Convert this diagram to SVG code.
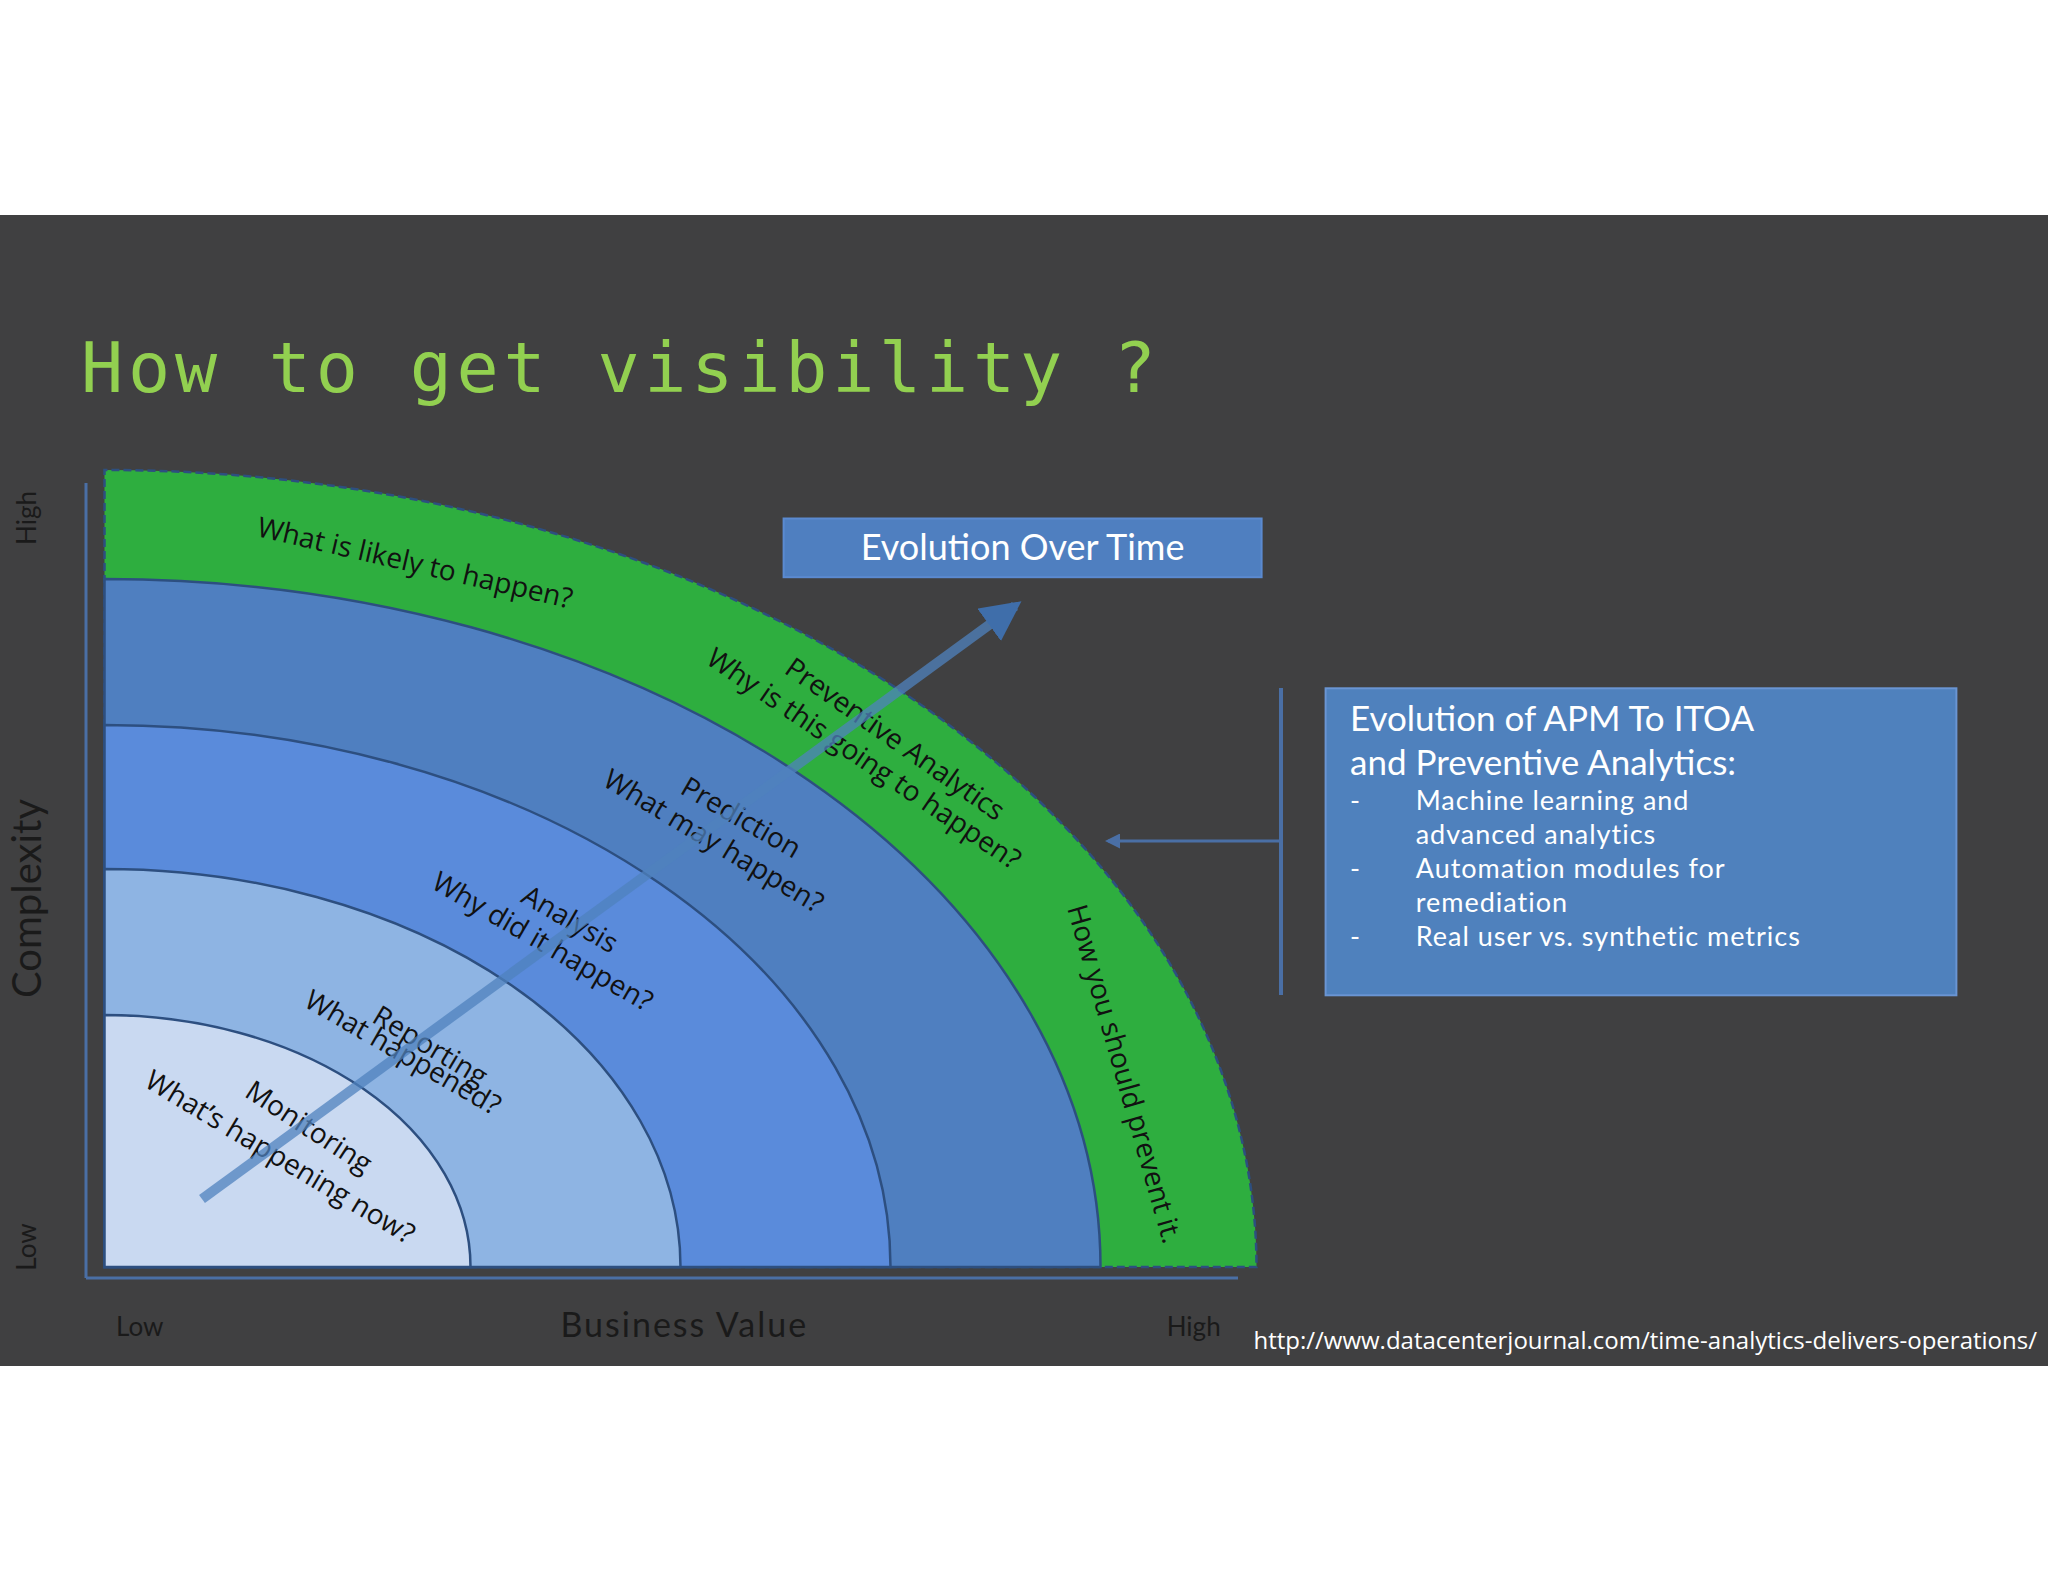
<svg xmlns="http://www.w3.org/2000/svg" width="2048" height="1582" viewBox="0 0 2048 1582">
<defs>
<style>
.lbl{font-family:"Open Sans","Liberation Sans",sans-serif;font-size:28px;fill:#111;text-anchor:middle;dominant-baseline:central}
.ax{font-family:"Lato","DejaVu Sans",sans-serif;fill:#1a1a1a;text-anchor:middle;dominant-baseline:central}
.bx{font-family:"Lato","DejaVu Sans",sans-serif;fill:#fff}
.ring{stroke:#2d4f80;stroke-width:2.5}
</style>
<marker id="ah" viewBox="0 0 10 10" refX="8" refY="5" markerWidth="4" markerHeight="4" orient="auto"><path d="M0,0 L10,5 L0,10 z" fill="#3f6eaa"/></marker>
<marker id="ah2" viewBox="0 0 10 10" refX="8" refY="5" markerWidth="5" markerHeight="5" orient="auto"><path d="M0,0 L10,5 L0,10 z" fill="#4a6fa5"/></marker>
</defs>
<rect width="2048" height="1582" fill="#fff"/>
<rect y="215" width="2048" height="1151" fill="#404041"/>
<text x="81" y="392" font-family="'DejaVu Sans Mono','Liberation Mono',monospace" font-size="70" fill="#92D050" textLength="1075">How to get visibility ?</text>

<g id="rings">
<path class="ring" d="M104.5,1267 L104.5,470 A1152,797 0 0 1 1256.5,1267 Z" fill="#2EAE3F" stroke-dasharray="8,4"/>
<path class="ring" d="M104.5,1267 L104.5,579 A996,688 0 0 1 1100.5,1267 Z" fill="#4F7FC0"/>
<path class="ring" d="M104.5,1267 L104.5,725 A786,542 0 0 1 890.5,1267 Z" fill="#5A8BDB"/>
<path class="ring" d="M104.5,1267 L104.5,869 A576,398 0 0 1 680.5,1267 Z" fill="#8EB4E3"/>
<path class="ring" d="M104.5,1267 L104.5,1015 A366,252 0 0 1 470.5,1267 Z" fill="#C9D9F1"/>
</g>

<g id="axes" stroke="#4a6fa5" stroke-width="3">
<line x1="86" y1="483" x2="86" y2="1278"/>
<line x1="86" y1="1278" x2="1238" y2="1278"/>
</g>

<g id="labels">
<text class="lbl" transform="translate(309.5,1125.8) rotate(33)">Monitoring</text>
<text class="lbl" transform="translate(280.8,1155.8) rotate(31)">What’s happening now?</text>
<text class="lbl" transform="translate(431,1044.8) rotate(31)">Reporting</text>
<text class="lbl" transform="translate(403.6,1051.3) rotate(30)">What happened?</text>
<text class="lbl" transform="translate(570.7,918) rotate(30)">Analysis</text>
<text class="lbl" transform="translate(543.3,940.3) rotate(30)">Why did it happen?</text>
<text class="lbl" transform="translate(741.8,816.3) rotate(30)">Prediction</text>
<text class="lbl" transform="translate(714.4,839.8) rotate(31)">What may happen?</text>
<text class="lbl" transform="translate(895.9,737.9) rotate(35)">Preventive Analytics</text>
<text class="lbl" transform="translate(864.6,757.5) rotate(34)">Why is this going to happen?</text>
<text class="lbl" transform="translate(415.3,561.6) rotate(13)">What is likely to happen?</text>
<text class="lbl" transform="translate(1125.8,1073.5) rotate(74)">How you should prevent it.</text>
</g>

<g id="connectors">
<line x1="202" y1="1199" x2="1015" y2="606" stroke="#4f81bd" stroke-opacity="0.75" stroke-width="10" marker-end="url(#ah)"/>
<line x1="1280" y1="841" x2="1108" y2="841" stroke="#4a6fa5" stroke-width="3" marker-end="url(#ah2)"/>
<line x1="1281" y1="688" x2="1281" y2="995" stroke="#4a6fa5" stroke-width="4"/>
</g>

<g id="evo">
<rect x="783.6" y="518.5" width="478" height="58.7" fill="#4F7FC0" stroke="#5b8ad0" stroke-width="2"/>
<text class="bx" x="1022.6" y="560" font-size="36" text-anchor="middle">Evolution Over Time</text>
</g>

<g id="info">
<rect x="1325.6" y="688.3" width="630.8" height="307" fill="#4F81BD" stroke="#6a95d3" stroke-width="2"/>
<text class="bx" x="1350" y="731" font-size="35">Evolution of APM To ITOA</text>
<text class="bx" x="1350" y="774.5" font-size="35">and Preventive Analytics:</text>
<g class="bx" font-size="27" letter-spacing="1">
<text x="1350" y="809.7">-</text><text x="1415.7" y="809.7">Machine learning and</text>
<text x="1415.7" y="843.7">advanced analytics</text>
<text x="1350" y="877.6">-</text><text x="1415.7" y="877.6">Automation modules for</text>
<text x="1415.7" y="911.6">remediation</text>
<text x="1350" y="945.5">-</text><text x="1415.7" y="945.5">Real user vs. synthetic metrics</text>
</g>
</g>

<g id="axislabels">
<text class="ax" font-size="26" transform="translate(26,518) rotate(-90)">High</text>
<text class="ax" font-size="40" transform="translate(26,898.5) rotate(-90)">Complexity</text>
<text class="ax" font-size="26" transform="translate(26,1247) rotate(-90)">Low</text>
<text class="ax" font-size="26" x="139.7" y="1325.6">Low</text>
<text class="ax" font-size="34" x="684.3" y="1323" letter-spacing="2">Business Value</text>
<text class="ax" font-size="26" x="1193.7" y="1325.6">High</text>
</g>

<text x="2037" y="1349" font-family="'Open Sans','Liberation Sans',sans-serif" font-size="24" fill="#fff" text-anchor="end">http://www.datacenterjournal.com/time-analytics-delivers-operations/</text>
</svg>
